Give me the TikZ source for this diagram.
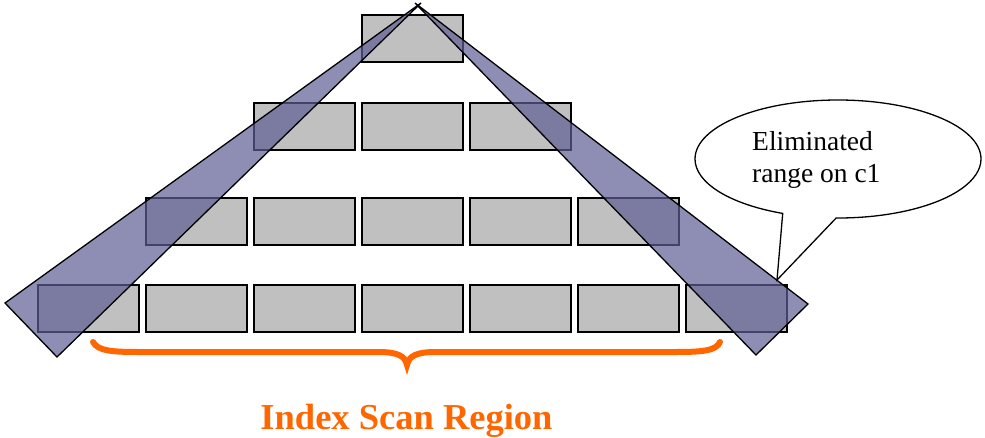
\documentclass[tikz,border=0pt]{standalone}
\usepackage{fontspec}
\setmainfont{Liberation Serif}
\usetikzlibrary{shapes.callouts}
\definecolor{boxgray}{RGB}{192,192,192}
\definecolor{bandblue}{RGB}{94,94,150}
\definecolor{braceorange}{RGB}{255,102,0}
\begin{document}
\begin{tikzpicture}[x=1pt,y=-1pt,
  cell/.style={draw=black,line width=1.3pt,fill=boxgray,minimum width=101pt,minimum height=47pt,inner sep=0pt},
  band/.style={draw=black,line width=1.3pt,fill=bandblue,fill opacity=0.7},
  bracestyle/.style={draw=braceorange,line width=6pt,line cap=round},
  note/.style={ellipse callout,draw=black,fill=white,line width=1.3pt,minimum width=286pt,minimum height=118pt,inner sep=0pt,callout pointer arc=22},
  notetext/.style={anchor=base west,font=\fontsize{27.5}{32}\selectfont,inner sep=0pt},
  regiontext/.style={anchor=base,font=\fontsize{36.5}{40}\selectfont\bfseries,text=braceorange,inner sep=0pt}]
\useasboundingbox (0,0) rectangle (985,437);
% boxes
\node[cell] (r1-3) at ({88.5+108*3},38.5) {};
\foreach \k in {2,3,4} \node[cell] (r2-\k) at ({88.5+108*\k},126.5) {};
\foreach \k in {1,...,5} \node[cell] (r3-\k) at ({88.5+108*\k},221.5) {};
\foreach \k in {0,...,6} \node[cell] (r4-\k) at ({88.5+108*\k},308.5) {};
% bands
\coordinate (lA) at (5,303);
\coordinate (lB) at (57,357);
\coordinate (lT) at (421,3);
\coordinate (rA) at (808,304);
\coordinate (rB) at (756,355);
\coordinate (rT) at (415,3);
\draw[band] (lA) -- (lT) -- (lB) -- cycle;
\draw[band] (rA) -- (rT) -- (rB) -- cycle;
% brace
\coordinate (bl) at (93,342);
\coordinate (bm) at (407,365);
\coordinate (br) at (720,342);
\draw[bracestyle] (bl) .. controls (98,351) and (112,352) .. (140,352) -- (378,352)
  .. controls (398,352) and (405,356) .. (bm)
  .. controls (409,356) and (416,352) .. (436,352) -- (674,352)
  .. controls (702,352) and (716,351) .. (br);
% callout
\coordinate (tip) at (777,280);
\node[note,callout absolute pointer={(tip)}] (callout) at (838,159) {};
\node[notetext] (t1) at (752,150) {Eliminated};
\node[notetext] (t2) at (752,182) {range on c1};
% label
\node[regiontext] (region) at (406.5,429) {Index Scan Region};
\end{tikzpicture}
\end{document}
